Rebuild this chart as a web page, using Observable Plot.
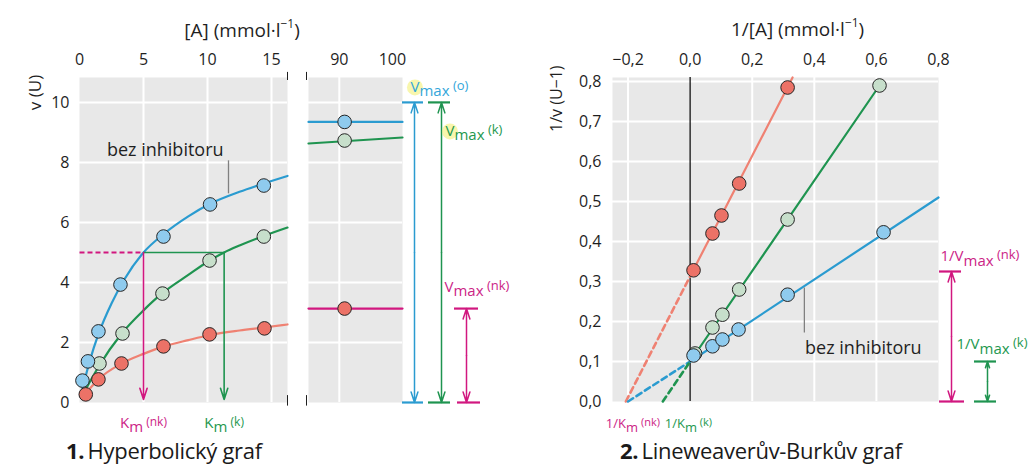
<!DOCTYPE html>
<html><head><meta charset="utf-8">
<script src="https://cdn.jsdelivr.net/npm/d3@7"></script>
<script src="https://cdn.jsdelivr.net/npm/@observablehq/plot@0.6"></script>
<style>
body{margin:0;background:#fff;font-family:"Open Sans",sans-serif;}
#wrap{position:relative;width:1033px;height:475px;overflow:hidden;background:#fff;}
#wrap svg{position:absolute;top:0;}
.ttl{position:absolute;font-size:22px;line-height:24px;color:#1a1a1a;white-space:nowrap;letter-spacing:-0.3px;}
</style></head><body><div id="wrap"></div>
<script>
// ---------- data ----------
// Panel 1: hyperbolic plot
const hypTicksX = [0, 5, 10, 15];
const hypTicksY = [0, 2, 4, 6, 8, 10];
const hypGridX = [5, 10, 15];
const hypGridY = [2, 4, 6, 8, 10];
const hypBlueA = [0.23, 0.66, 1.48, 3.2, 6.56, 10.2, 14.4];
const hypBlueV = [0.73, 1.37, 2.37, 3.93, 5.53, 6.6, 7.23];
const hypGreenA = [1.56, 3.36, 6.48, 10.16, 14.4];
const hypGreenV = [1.3, 2.3, 3.63, 4.73, 5.53];
const hypRedA = [0.49, 1.48, 3.28, 6.56, 10.16, 14.45];
const hypRedV = [0.27, 0.77, 1.3, 1.87, 2.27, 2.47];
const curveBlueA = [0.1, 0.4, 0.8, 1.5, 2.5, 3.5, 5, 6.6, 8.5, 10.2, 12.5, 14.4, 16.25];
const curveBlueV = [0.2, 0.74, 1.38, 2.3, 3.3, 4.1, 5.0, 5.62, 6.2, 6.62, 7.02, 7.3, 7.55];
const curveGreenA = [0.3, 0.8, 1.5, 3.3, 5, 6.5, 8.5, 10.2, 11.3, 12.5, 14.4, 16.25];
const curveGreenV = [0.28, 0.68, 1.2, 2.3, 3.07, 3.65, 4.25, 4.74, 5.0, 5.23, 5.55, 5.83];
const curveRedA = [0.2, 0.5, 1.5, 3.3, 5, 6.6, 8.5, 10.2, 12.5, 14.4, 16.25];
const curveRedV = [0.12, 0.3, 0.78, 1.3, 1.62, 1.87, 2.08, 2.25, 2.4, 2.5, 2.6];
const halfV = 5, kmNk = 5, kmK = 11.3;
// Panel 1b: broken axis part at high [A]
const midTicksX = [90, 100];
const midGridX = [90];
const midPointA = 91;
const midBlueV = [9.35, 9.35];
const midGreenV = [8.63, 8.83];
const midRedV = [3.13, 3.13];
const vmaxO = 10, vmaxK = 10, vmaxNk = 3.13;
// Panel 2: Lineweaver-Burk
const lbTicksX = [-0.2, 0, 0.2, 0.4, 0.6, 0.8];
const lbTicksY = [0, 0.1, 0.2, 0.3, 0.4, 0.5, 0.6, 0.7, 0.8];
const lbGridX = [-0.2, 0.2, 0.4, 0.6];
const lbGridY = [0.1, 0.2, 0.3, 0.4, 0.5, 0.6, 0.7, 0.8];
const lbBlueX = [0.011, 0.072, 0.104, 0.156, 0.314, 0.623];
const lbBlueY = [0.115, 0.138, 0.155, 0.18, 0.267, 0.423];
const lbGreenX = [0.016, 0.072, 0.104, 0.158, 0.314, 0.61];
const lbGreenY = [0.12, 0.185, 0.217, 0.28, 0.455, 0.79];
const lbRedX = [0.011, 0.072, 0.101, 0.158, 0.314];
const lbRedY = [0.328, 0.42, 0.465, 0.545, 0.785];
const lbBlueFitX = [-0.2, 0, 0.8], lbBlueFitY = [0, 0.1, 0.51];
const lbGreenFitX = [-0.088, 0, 0.61], lbGreenFitY = [0, 0.1, 0.79];
const lbRedFitX = [-0.207, 0, 0.33], lbRedFitY = [0, 0.313, 0.81];
const invVmaxNk = 0.325, invVmaxK = 0.1;

// ---------- styles ----------
const FONT = '"Open Sans", sans-serif';
const GREY = "#e8e8e8";
const INK = "#1f1f1f";
const C = {blue: "#2a9bd0", blueFill: "#8fcbee", green: "#1f9450", greenFill: "#c7dfcb",
  red: "#ef8172", redFill: "#ec7267", mag: "#d1177f", blueTxt: "#34a6da", greenTxt: "#24984f",
  magTxt: "#cc2486", dot: "#262626"};
const STYLE = {fontFamily: FONT, fontSize: "16px", color: INK, background: "transparent", overflow: "visible"};
const TICK = 16;

const zip = (xs, ys) => xs.map((x, i) => ({x, y: ys[i]}));
const ctx = document.createElement("canvas").getContext("2d");
function tw(s, size) { ctx.font = `${size}px ${FONT}`; return ctx.measureText(s).width; }
function rich(x, y, parts, {dx = 0, dy = 0, anchor = "start", fill = INK} = {}) {
  const ws = parts.map(p => tw(p.t, p.size));
  const total = d3.sum(ws);
  let off = anchor === "middle" ? -total / 2 : anchor === "end" ? -total : 0;
  const marks = [];
  parts.forEach((p, i) => {
    if (p.glow) marks.push(Plot.dot([{x, y}], {x: "x", y: "y", r: 8, fill: "#f2ef6a", fillOpacity: 0.55, dx: dx + off + ws[i] / 2, dy: dy + (p.dy || 0)}));
    marks.push(Plot.text([{x, y}], {x: "x", y: "y", text: () => p.t, fontSize: p.size, fill: p.fill || fill,
      textAnchor: "start", dx: dx + off, dy: dy + (p.dy || 0)}));
    off += ws[i];
  });
  return marks;
}
const seg = (x1, y1, x2, y2, o) => Plot.link([{x1, y1, x2, y2}], {x1: "x1", y1: "y1", x2: "x2", y2: "y2", ...o});
function dblArrow(x, y0, y1, o) {
  const m = (y0 + y1) / 2;
  const base = {headLength: 11, headAngle: 36, strokeWidth: 1.5, ...o};
  return [
    Plot.arrow([{x, a: m, b: y1}], {x1: "x", x2: "x", y1: "a", y2: "b", ...base}),
    Plot.arrow([{x, a: m, b: y0}], {x1: "x", x2: "x", y1: "a", y2: "b", ...base})
  ];
}
const bar = (x, y, o) => Plot.ruleY([y], {x1: x, x2: x, strokeWidth: 2.2, ...o});
const whiteGrid = {stroke: "white", strokeOpacity: 1, strokeWidth: 2};
const dotOpts = (fill) => ({x: "x", y: "y", r: 6.8, fill, stroke: C.dot, strokeWidth: 1});
const fmtC = d => (d < 0 ? "\u2212" : "") + Math.abs(d).toFixed(1).replace(".", ",");
const supUnit = (pre) => [
  {t: pre, size: 19}, {t: "\u22121", size: 12, dy: -6}, {t: ")", size: 19}
];

// ---------- Panel 1 ----------
const p1 = Plot.plot({
  width: 300, height: 430, marginLeft: 79, marginRight: 13, marginTop: 77, marginBottom: 28,
  x: {domain: [0, 16.25]}, y: {domain: [0, 10.83]}, style: STYLE,
  marks: [
    Plot.frame({fill: GREY, stroke: "none"}),
    Plot.gridX(hypGridX, whiteGrid),
    Plot.gridY(hypGridY, whiteGrid),
    Plot.axisX(hypTicksX, {anchor: "top", tickSize: 0, tickPadding: 13, fontSize: TICK, label: null}),
    Plot.axisY(hypTicksY, {anchor: "left", tickSize: 0, tickPadding: 10, fontSize: TICK, label: null}),
    ...rich(12.7, 10.83, supUnit("[A] (mmol\u00b7l"), {dy: -47, anchor: "middle"}),
    Plot.text(["v (U)"], {y: [10.33], frameAnchor: "left", textAnchor: "middle", dx: -44, rotate: -90, fontSize: 17, fill: INK}),
    Plot.ruleX([16.25], {y1: 10.73, y2: 11.0, stroke: INK, strokeWidth: 1}),
    Plot.ruleX([16.25], {y1: -0.12, y2: 0.23, stroke: INK, strokeWidth: 1}),
    Plot.line(zip(curveRedA, curveRedV), {x: "x", y: "y", stroke: C.red, strokeWidth: 2.2, curve: "monotone-x"}),
    Plot.line(zip(curveGreenA, curveGreenV), {x: "x", y: "y", stroke: C.green, strokeWidth: 2.2, curve: "monotone-x"}),
    Plot.line(zip(curveBlueA, curveBlueV), {x: "x", y: "y", stroke: C.blue, strokeWidth: 2.2, curve: "monotone-x"}),
    seg(0, halfV, kmNk, halfV, {stroke: C.mag, strokeWidth: 2, strokeDasharray: "5,3"}),
    seg(kmNk, halfV, kmK, halfV, {stroke: C.green, strokeWidth: 1.6}),
    Plot.arrow([{x: kmNk, a: halfV, b: 0}], {x1: "x", x2: "x", y1: "a", y2: "b", stroke: C.mag, strokeWidth: 1.6, headLength: 11, headAngle: 36, insetEnd: 3}),
    Plot.arrow([{x: kmK, a: halfV, b: 0}], {x1: "x", x2: "x", y1: "a", y2: "b", stroke: C.green, strokeWidth: 1.6, headLength: 11, headAngle: 36, insetEnd: 3}),
    Plot.dot(zip(hypRedA, hypRedV), dotOpts(C.redFill)),
    Plot.dot(zip(hypGreenA, hypGreenV), dotOpts(C.greenFill)),
    Plot.dot(zip(hypBlueA, hypBlueV), dotOpts(C.blueFill)),
    Plot.text(["bez inhibitoru"], {x: [6.7], y: [8.4], fontSize: 18, fill: INK}),
    seg(11.64, 8.07, 11.64, 6.97, {stroke: "#808080", strokeWidth: 1.3}),
    ...rich(kmNk, 0, [{t: "K", size: 15}, {t: "m", size: 15, dy: 4}, {t: " (nk)", size: 12, dy: -1}], {dy: 21, anchor: "middle", fill: C.magTxt}),
    ...rich(kmK, 0, [{t: "K", size: 15}, {t: "m", size: 15, dy: 4}, {t: " (k)", size: 12, dy: -1}], {dy: 21, anchor: "middle", fill: C.greenTxt})
  ]
});

// ---------- Panel 1b ----------
const midDom = [84.2, 101.9];
const xe = midDom[1];
const p2 = Plot.plot({
  width: 220, height: 430, marginLeft: 18, marginRight: 108, marginTop: 77, marginBottom: 28,
  x: {domain: midDom}, y: {domain: [0, 10.83], axis: null}, style: STYLE,
  marks: [
    Plot.frame({fill: GREY, stroke: "none"}),
    Plot.gridX(midGridX, whiteGrid),
    Plot.gridY(hypGridY, whiteGrid),
    Plot.axisX(midTicksX, {anchor: "top", tickSize: 0, tickPadding: 13, fontSize: TICK, label: null}),
    Plot.ruleX([midDom[0]], {y1: 10.73, y2: 11.0, stroke: INK, strokeWidth: 1, dx: -2}),
    Plot.ruleX([midDom[0]], {y1: -0.12, y2: 0.23, stroke: INK, strokeWidth: 1, dx: -2}),
    Plot.line(zip(midDom, midBlueV), {x: "x", y: "y", stroke: C.blue, strokeWidth: 2.2}),
    Plot.line(zip(midDom, midGreenV), {x: "x", y: "y", stroke: C.green, strokeWidth: 2.2}),
    Plot.line(zip(midDom, midRedV), {x: "x", y: "y", stroke: C.mag, strokeWidth: 2.2}),
    Plot.dot([{x: midPointA, y: midBlueV[0]}], dotOpts(C.blueFill)),
    Plot.dot([{x: midPointA, y: (midGreenV[0] + midGreenV[1]) / 2}], dotOpts(C.greenFill)),
    Plot.dot([{x: midPointA, y: midRedV[0]}], dotOpts(C.redFill)),
    // Vmax (o)
    bar(xe, vmaxO, {stroke: C.blue, insetLeft: 0, insetRight: -21}),
    bar(xe, 0, {stroke: C.blue, insetLeft: 0, insetRight: -21}),
    ...dblArrow(xe, 0, vmaxO, {stroke: C.blue, dx: 12}),
    // Vmax (k)
    bar(xe, vmaxK, {stroke: C.green, insetLeft: 26, insetRight: -48}),
    bar(xe, 0, {stroke: C.green, insetLeft: 26, insetRight: -48}),
    ...dblArrow(xe, 0, vmaxK, {stroke: C.green, dx: 39}),
    // Vmax (nk)
    bar(xe, vmaxNk, {stroke: C.mag, insetLeft: 52, insetRight: -76}),
    bar(xe, 0, {stroke: C.mag, insetLeft: 55, insetRight: -78}),
    ...dblArrow(xe, 0, vmaxNk, {stroke: C.mag, dx: 64}),
    ...rich(xe, vmaxO, [{t: "V", size: 15, glow: true}, {t: "max", size: 15, dy: 4}, {t: " (o)", size: 13, dy: -2}], {dx: 8, dy: -15, fill: C.blueTxt}),
    ...rich(xe, vmaxK, [{t: "V", size: 15, glow: true}, {t: "max", size: 15, dy: 4}, {t: " (k)", size: 13, dy: -2}], {dx: 43, dy: 29, fill: C.greenTxt}),
    ...rich(xe, vmaxNk, [{t: "V", size: 15}, {t: "max", size: 15, dy: 4}, {t: " (nk)", size: 13, dy: -2}], {dx: 42, dy: -21, fill: C.magTxt})
  ]
});

// ---------- Panel 2 ----------
const p3 = Plot.plot({
  width: 493, height: 430, marginLeft: 72, marginRight: 95, marginTop: 77, marginBottom: 29,
  x: {domain: [-0.25, 0.8]}, y: {domain: [0, 0.81]}, style: STYLE,
  marks: [
    Plot.frame({fill: GREY, stroke: "none"}),
    Plot.gridX(lbGridX, whiteGrid),
    Plot.gridY(lbGridY, whiteGrid),
    Plot.ruleX([0], {stroke: "#111", strokeWidth: 1.3}),
    Plot.axisX(lbTicksX, {anchor: "top", tickSize: 0, tickPadding: 13, fontSize: TICK, label: null, tickFormat: fmtC}),
    Plot.axisY(lbTicksY, {anchor: "left", tickSize: 0, tickPadding: 11, fontSize: TICK, label: null, tickFormat: fmtC}),
    ...rich(0.346, 0.81, supUnit("1/[A] (mmol\u00b7l"), {dy: -48, anchor: "middle"}),
    Plot.text(["1/v (U\u22121)"], {y: [0.757], frameAnchor: "left", textAnchor: "middle", dx: -56, rotate: -90, fontSize: 16, fill: INK}),
    Plot.line(zip(lbRedFitX.slice(0, 2), lbRedFitY.slice(0, 2)), {x: "x", y: "y", stroke: C.red, strokeWidth: 2.6, strokeDasharray: "6,4"}),
    Plot.line(zip(lbBlueFitX.slice(0, 2), lbBlueFitY.slice(0, 2)), {x: "x", y: "y", stroke: C.blue, strokeWidth: 2.6, strokeDasharray: "6,4"}),
    Plot.line(zip(lbGreenFitX.slice(0, 2), lbGreenFitY.slice(0, 2)), {x: "x", y: "y", stroke: C.green, strokeWidth: 2.6, strokeDasharray: "6,4"}),
    Plot.line(zip(lbRedFitX.slice(1), lbRedFitY.slice(1)), {x: "x", y: "y", stroke: C.red, strokeWidth: 2.2}),
    Plot.line(zip(lbGreenFitX.slice(1), lbGreenFitY.slice(1)), {x: "x", y: "y", stroke: C.green, strokeWidth: 2.2}),
    Plot.line(zip(lbBlueFitX.slice(1), lbBlueFitY.slice(1)), {x: "x", y: "y", stroke: C.blue, strokeWidth: 2.2}),
    Plot.dot(zip(lbRedX, lbRedY), dotOpts(C.redFill)),
    Plot.dot(zip(lbGreenX, lbGreenY), dotOpts(C.greenFill)),
    Plot.dot(zip(lbBlueX, lbBlueY), dotOpts(C.blueFill)),
    Plot.text(["bez inhibitoru"], {x: [0.558], y: [0.1325], fontSize: 18, fill: INK}),
    seg(0.368, 0.285, 0.368, 0.1725, {stroke: "#808080", strokeWidth: 1.3}),
    bar(0.8, invVmaxNk, {stroke: C.mag, insetLeft: 1, insetRight: -23}),
    bar(0.8, 0, {stroke: C.mag, insetLeft: 1, insetRight: -26}),
    ...dblArrow(0.8, 0, invVmaxNk, {stroke: C.mag, dx: 13}),
    bar(0.8, invVmaxK, {stroke: C.green, insetLeft: 36, insetRight: -58}),
    bar(0.8, 0, {stroke: C.green, insetLeft: 36, insetRight: -58}),
    ...dblArrow(0.8, 0, invVmaxK, {stroke: C.green, dx: 49}),
    ...rich(0.8, invVmaxNk, [{t: "1/V", size: 15}, {t: "max", size: 15, dy: 5}, {t: " (nk)", size: 13, dy: -2}], {dx: 2, dy: -15, fill: C.magTxt}),
    ...rich(0.8, invVmaxK, [{t: "1/V", size: 15}, {t: "max", size: 15, dy: 5}, {t: " (k)", size: 13, dy: -2}], {dx: 18, dy: -17, fill: C.greenTxt}),
    ...rich(lbRedFitX[0], 0, [{t: "1/K", size: 13}, {t: "m", size: 13, dy: 4}, {t: " (nk)", size: 11, dy: -1}], {dx: -20, dy: 22, fill: C.magTxt}),
    ...rich(lbGreenFitX[0], 0, [{t: "1/K", size: 13}, {t: "m", size: 13, dy: 4}, {t: " (k)", size: 11, dy: -1}], {dx: 2, dy: 22, fill: C.greenTxt})
  ]
});

const wrap = document.getElementById("wrap");
[[p1, 0], [p2, 290], [p3, 540]].forEach(([svg, left]) => { svg.style.left = left + "px"; wrap.appendChild(svg); });
const t1 = document.createElement("div");
t1.className = "ttl"; t1.style.left = "66px"; t1.style.top = "438px";
t1.innerHTML = "<b>1.</b>&#8201;Hyperbolický graf";
const t2 = document.createElement("div");
t2.className = "ttl"; t2.style.left = "620px"; t2.style.top = "438px";
t2.innerHTML = "<b>2.</b>&#8201;Lineweaverův-Burkův graf";
wrap.appendChild(t1); wrap.appendChild(t2);
</script></body></html>
